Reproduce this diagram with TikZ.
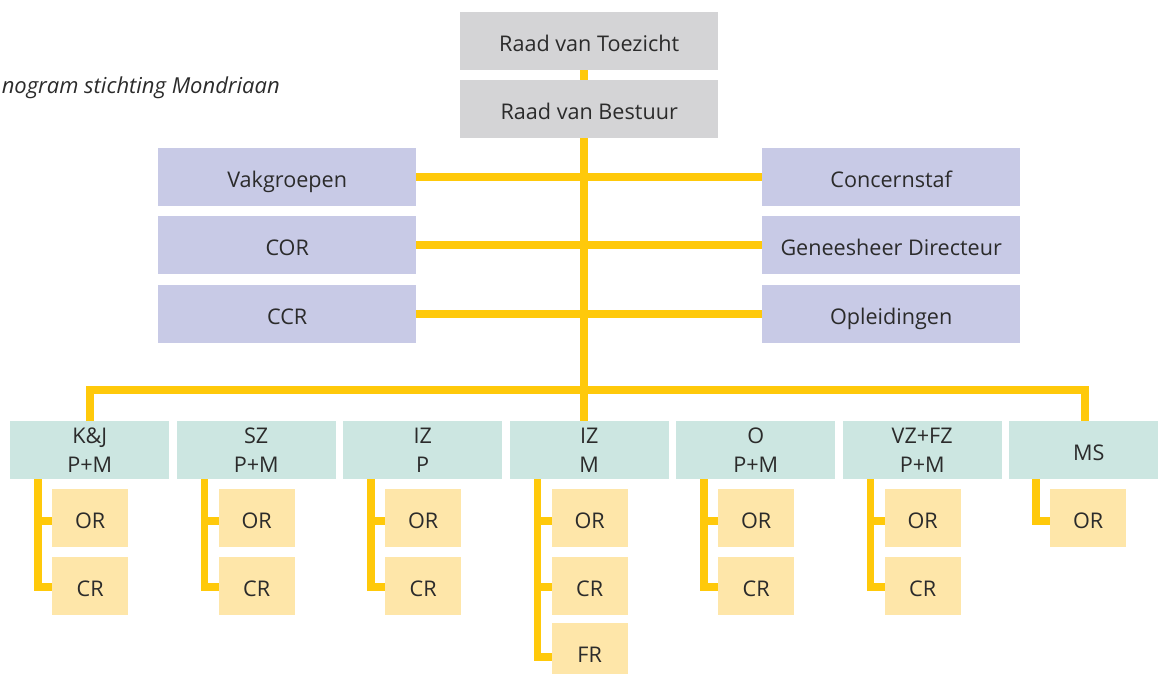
\documentclass[tikz,border=0pt]{standalone}
\usepackage{fontspec}
\setmainfont{Open Sans}
\definecolor{txt}{HTML}{2B2B2B}
\definecolor{boxgrey}{HTML}{D4D4D6}
\definecolor{boxlila}{HTML}{C8CAE6}
\definecolor{boxmint}{HTML}{CCE6E1}
\definecolor{boxgeel}{HTML}{FEE6A9}
\definecolor{lijn}{HTML}{FFC90A}
\begin{document}
\begin{tikzpicture}[x=1pt,y=-1pt,
  box/.style={rectangle, inner sep=0pt, anchor=north west, text=txt,
    font=\fontsize{21.6}{29}\selectfont, align=center},
  oneline/.style={text height=20pt, text depth=0pt},
  topbox/.style={box, oneline, fill=boxgrey, minimum width=258pt, minimum height=58pt},
  sidebox/.style={box, oneline, fill=boxlila, minimum width=258pt, minimum height=58pt},
  unitbox/.style={box, fill=boxmint, minimum width=159pt, minimum height=58pt},
  subbox/.style={box, oneline, fill=boxgeel, minimum width=76pt, minimum height=58pt},
  conn/.style={draw=lijn, line width=7.5pt, line join=miter},
  titel/.style={text=txt, inner sep=0pt, font=\fontsize{22}{26}\selectfont\itshape}]
\useasboundingbox (0,0) rectangle (1158,673);
\clip (0,0) rectangle (1158,673);

% title
\node[titel, anchor=base east] (titel) at (280,93) {nogram stichting Mondriaan};

% top
\node[topbox] (rvt) at (460,12) {Raad van Toezicht};
\node[topbox] (rvb) at (460,80) {Raad van Bestuur};

% sides
\node[sidebox] (vak) at (158,148) {Vakgroepen};
\node[sidebox] (cor) at (158,216) {COR};
\node[sidebox] (ccr) at (158,285) {CCR};
\node[sidebox] (cst) at (762,148) {Concernstaf};
\node[sidebox] (gd)  at (762,216) {Geneesheer Directeur};
\node[sidebox] (opl) at (762,285) {Opleidingen};

% units
\node[unitbox] (u1) at (10,421)   {K\&J\\P+M};
\node[unitbox] (u2) at (176.5,421) {SZ\\P+M};
\node[unitbox] (u3) at (343,421)  {IZ\\P};
\node[unitbox] (u4) at (509.5,421) {IZ\\M};
\node[unitbox] (u5) at (676,421)  {O\\P+M};
\node[unitbox] (u6) at (842.5,421) {VZ+FZ\\P+M};
\node[unitbox, oneline] (u7) at (1009,421) {MS};

% sub boxes
\foreach \i/\L in {1/10,2/176.5,3/343,4/509.5,5/676,6/842.5} {
  \node[subbox] (or\i) at (\L+42,489) {OR};
  \node[subbox] (cr\i) at (\L+42,557) {CR};
}
\node[subbox] (or7) at (1050,489) {OR};
\node[subbox] (fr4) at (551.5,623) {FR};

% main spine
\coordinate (main) at (584,0);
\coordinate (busL) at (90,390);
\coordinate (busR) at (1085,390);
\draw[conn] (rvt.south -| main) -- (rvb.north -| main);
\draw[conn] (rvb.south -| main) -- (u4.north -| main);
\draw[conn] (vak.east) -- (cst.west);
\draw[conn] (cor.east) -- (gd.west);
\draw[conn] (ccr.east) -- (opl.west);
\draw[conn] (u1.north -| busL) -- (busL) -- (busR) -- (u7.north -| busR);

% sub connectors
\foreach \i in {1,2,3,5,6} {
  \draw[conn] ([xshift=28pt]u\i.south west) |- ([yshift=-1pt]cr\i.west);
  \draw[conn] ([xshift=28pt]u\i.south west) |- ([yshift=-3pt]or\i.west);
}
\draw[conn] ([xshift=28pt]u4.south west) |- ([yshift=-5pt]fr4.west);
\draw[conn] ([xshift=28pt]u4.south west) |- ([yshift=-1pt]cr4.west);
\draw[conn] ([xshift=28pt]u4.south west) |- ([yshift=-3pt]or4.west);
\draw[conn] ([xshift=27pt]u7.south west) |- ([yshift=-3pt]or7.west);
\end{tikzpicture}
\end{document}
